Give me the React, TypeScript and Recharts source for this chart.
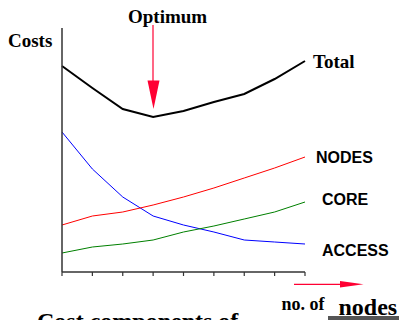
import React from 'react';
import { LineChart, Line, XAxis, YAxis } from 'recharts';

const categories = ['1', '2', '3', '4', '5', '6', '7', '8', '9'];
const totalCost = [206, 184, 163, 155, 161, 170, 178, 193, 211];
const accessCost = [140, 103, 75, 56, 47, 40, 32, 30, 28];
const nodesCost = [47, 56, 60, 67, 75, 84, 94, 104, 115];
const coreCost = [19, 25, 28, 32, 40, 46, 53, 60, 70];

const data = categories.map((c, i) => ({
  n: c,
  total: totalCost[i],
  access: accessCost[i],
  nodes: nodesCost[i],
  core: coreCost[i],
}));

const SERIF = '"Liberation Serif", "Times New Roman", serif';
const SANS = '"Liberation Sans", Arial, sans-serif';
const RED = '#ff0033';

const TickMark = (props: any) => {
  const { x, y } = props;
  return <line x1={x} x2={x} y1={y} y2={y + 4} stroke="#333" strokeWidth={1.2} />;
};

export default function App() {
  return (
    <div style={{ position: 'absolute', left: 0, top: 0, width: 399, height: 320, overflow: 'hidden', background: '#fff' }}>
      <LineChart width={399} height={320} data={data} margin={{ top: 28, right: 94, bottom: 38, left: 52 }}>
        <XAxis
          dataKey="n"
          height={10}
          tickSize={0}
          tickMargin={0}
          tickLine={false}
          tick={<TickMark />}
          interval={0}
          stroke="#333"
          strokeWidth={1.5}
        />
        <YAxis width={10} domain={[0, 244]} tick={false} tickLine={false} stroke="#333" strokeWidth={1.5} />
        <Line dataKey="total" stroke="#000" strokeWidth={2} dot={false} isAnimationActive={false} type="linear" />
        <Line dataKey="access" stroke="#0000ff" strokeWidth={1} dot={false} isAnimationActive={false} type="linear" />
        <Line dataKey="nodes" stroke="#ff0000" strokeWidth={1} dot={false} isAnimationActive={false} type="linear" />
        <Line dataKey="core" stroke="#008000" strokeWidth={1} dot={false} isAnimationActive={false} type="linear" />

        <text x={8} y={46.5} fontFamily={SERIF} fontWeight="bold" fontSize={19} fill="#000">Costs</text>
        <text x={128} y={23} fontFamily={SERIF} fontWeight="bold" fontSize={19} fill="#000">Optimum</text>
        <line x1={153} x2={153} y1={25} y2={82} stroke={RED} strokeWidth={1.2} />
        <polygon points="147.5,80.5 159.5,80.5 153.5,109" fill={RED} />
        <text x={313} y={67.5} fontFamily={SERIF} fontWeight="bold" fontSize={19} fill="#000">Total</text>
        <text x={316} y={163.3} fontFamily={SANS} fontWeight="bold" fontSize={16} fill="#000">NODES</text>
        <text x={322} y={205} fontFamily={SANS} fontWeight="bold" fontSize={16} fill="#000">CORE</text>
        <text x={322} y={256} fontFamily={SANS} fontWeight="bold" fontSize={16} fill="#000">ACCESS</text>
        <line x1={294} x2={342} y1={284.3} y2={284.3} stroke={RED} strokeWidth={1.2} />
        <polygon points="340,281 363.5,284.3 340,287.6" fill={RED} />
        <text x={281.5} y={310} fontFamily={SERIF} fontWeight="bold" fontSize={18} fill="#000">no. of</text>
        <rect x={328} y={316} width={71} height={4} fill="#555" />
        <text x={338.5} y={315} fontFamily={SERIF} fontWeight="bold" fontSize={24} fill="#000">nodes</text>
        <text x={37} y={328.6} fontFamily={SERIF} fontWeight="bold" fontSize={24} fill="#000">Cost components of</text>
      </LineChart>
    </div>
  );
}
